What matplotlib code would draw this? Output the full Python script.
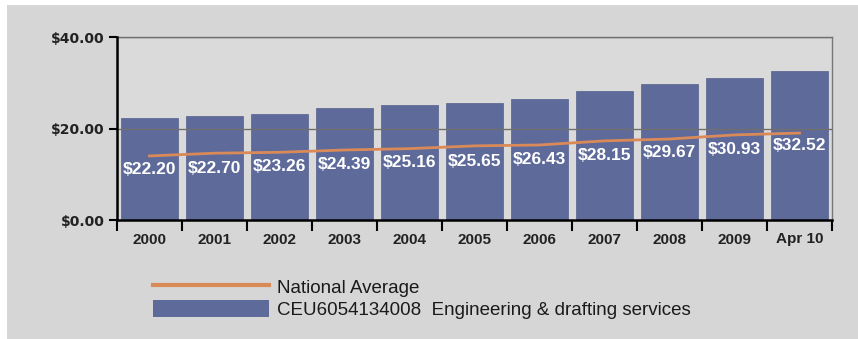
import matplotlib

matplotlib.use("Agg")
import matplotlib.pyplot as plt
from matplotlib.lines import Line2D
from matplotlib.patches import Patch, Rectangle

# Data
categories = ["2000", "2001", "2002", "2003", "2004", "2005",
              "2006", "2007", "2008", "2009", "Apr 10"]
wages = [22.20, 22.70, 23.26, 24.39, 25.16, 25.65,
         26.43, 28.15, 29.67, 30.93, 32.52]
national_avg = [14.0, 14.6, 14.8, 15.3, 15.6, 16.2,
                16.4, 17.3, 17.7, 18.6, 19.0]
y_ticks = [0, 20, 40]
series_label = "CEU6054134008  Engineering & drafting services"
line_label = "National Average"

bar_color = "#5e6a9a"
line_color = "#d98a58"
bg_color = "#d6d6d6"

plt.rcParams["font.family"] = ["Liberation Sans", "DejaVu Sans"]

fig = plt.figure(figsize=(8.58, 3.39), dpi=100, facecolor="white")
# gray panel with thin white margin on left/top
fig.patches.append(Rectangle((7 / 858, 0), 1, 1 - 5 / 339, transform=fig.transFigure,
                             facecolor=bg_color, edgecolor="none", zorder=-10))

ax = fig.add_axes([117 / 858, 1 - 220 / 339, 715 / 858, 183 / 339])
ax.set_facecolor("#dadada")

x = list(range(len(categories)))
ax.bar(x, wages, width=0.89, color=bar_color, edgecolor="#56618f", linewidth=0.5, zorder=2)
ax.plot(x, national_avg, color=line_color, linewidth=2, zorder=4)

for xi, v in zip(x, wages):
    ax.text(xi, v / 2, f"${v:.2f}", ha="center", va="center", color="white",
            fontsize=12.5, fontweight="bold", zorder=5)

ax.set_xlim(-0.5, len(categories) - 0.5)
ax.set_ylim(0, 40)

# gridlines above bars
for yv in y_ticks[1:]:
    ax.axhline(yv, color="#6f6f6f", linewidth=1, zorder=3)

ax.set_yticks(y_ticks)
ax.set_yticklabels([f"${v:.2f}" for v in y_ticks], fontsize=10, fontweight="bold",
                   color="#222", family="DejaVu Sans")
ax.tick_params(axis="y", length=6, width=1.5, color="black", pad=3)

ax.set_xticks(x)
ax.set_xticklabels(categories, fontsize=11, fontweight="bold", color="#222")
ax.set_xticks([i - 0.5 for i in range(len(categories) + 1)], minor=True)
ax.tick_params(axis="x", which="major", length=0, pad=9)
ax.tick_params(axis="x", which="minor", length=8, width=1.5, color="black")

for side in ("top", "right"):
    ax.spines[side].set_color("#777")
    ax.spines[side].set_linewidth(1)
for side in ("left", "bottom"):
    ax.spines[side].set_color("black")
    ax.spines[side].set_linewidth(1.8)
    ax.spines[side].set_zorder(6)

handles = [Line2D([], [], color=line_color, linewidth=3),
           Patch(facecolor=bar_color, edgecolor="none")]
fig.legend(handles, [line_label, series_label], loc="upper left",
           bbox_to_anchor=(153 / 858, 1 - 278 / 339), frameon=False,
           fontsize=13.5, handlelength=6.2, handleheight=0.96, handletextpad=0.43,
           labelspacing=0.2, borderpad=0, borderaxespad=0, labelcolor="#1a1a1a")

fig.savefig("out.png", dpi=100, facecolor=fig.get_facecolor())
